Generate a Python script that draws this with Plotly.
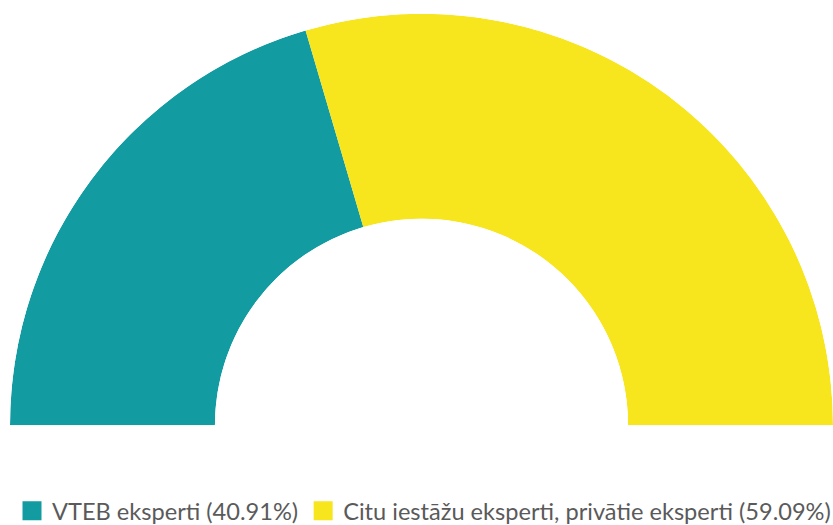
import plotly.graph_objects as go

labels = ["VTEB eksperti", "Citu iestāžu eksperti, privātie eksperti"]
values = [40.91, 59.09]
colors = ["#129BA0", "#F7E51E"]

total = sum(values)
fig = go.Figure()
start = 0.0
for lab, val, col in zip(labels, values, colors):
    span = val / total * 180.0
    fig.add_trace(go.Barpolar(
        r=[1], theta=[start + span / 2], width=[span],
        marker=dict(color=col, line=dict(width=0)),
        name=f"{lab} ({val:.2f}%)", showlegend=False,
        hoverinfo="name",
    ))
    start += span

for lab, val, col in zip(labels, values, colors):
    fig.add_trace(go.Scatterpolar(
        r=[None], theta=[None], mode="markers",
        marker=dict(symbol="square", size=16, color=col,
                    line=dict(width=3, color=col)),
        name=f"{lab} ({val:.2f}%)", showlegend=True,
    ))

fig.update_layout(
    width=833, height=525,
    paper_bgcolor="white", plot_bgcolor="white",
    margin=dict(l=10, r=0, t=13, b=99, autoexpand=False),
    font=dict(family="Lato", size=23.6, color="#5a5a5a"),
    polar=dict(
        domain=dict(x=[0, 1], y=[0, 1]),
        sector=[0, 180], hole=0.502, bargap=0,
        bgcolor="white",
        radialaxis=dict(visible=False, range=[0, 1], showgrid=False),
        angularaxis=dict(visible=False, direction="clockwise", rotation=180,
                         showgrid=False),
    ),
    legend=dict(orientation="h", xref="container", yref="container",
                x=0.509, xanchor="center", y=0.027, yanchor="middle",
                font=dict(family="Lato", size=23.6, color="#5a5a5a"),
                itemclick=False),
    showlegend=True,
)
fig.write_html("out.html", config={"displayModeBar": False},
               post_script="document.body.style.margin='0';document.body.style.overflow='hidden';")
